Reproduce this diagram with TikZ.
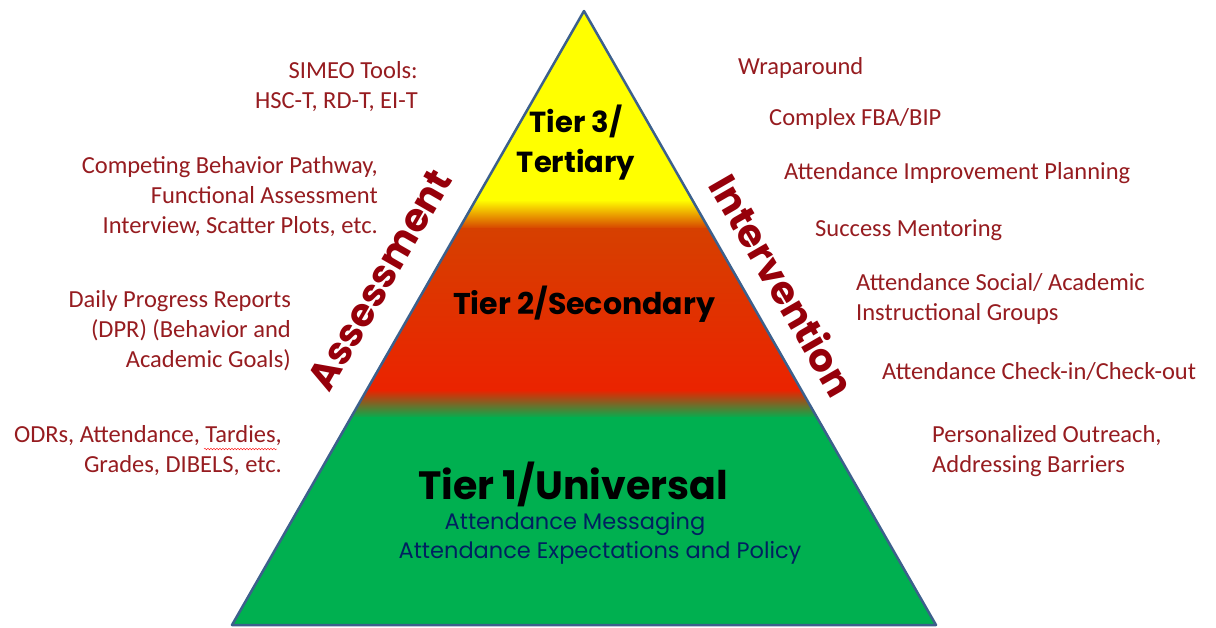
\documentclass[tikz,border=0pt]{standalone}
\usepackage{fontspec}
\setmainfont{Carlito}
\newfontfamily\gothic{Poppins}
\usepackage{tikz}
\usetikzlibrary{positioning,decorations.pathmorphing}

\definecolor{labelred}{RGB}{150,28,32}
\definecolor{axisred}{RGB}{150,0,10}
\definecolor{tieryellow}{RGB}{255,255,0}
\definecolor{tierorange}{RGB}{214,64,0}
\definecolor{tierred}{RGB}{235,35,0}
\definecolor{tiergreen}{RGB}{0,176,80}
\definecolor{edgeblue}{RGB}{60,96,140}
\definecolor{msgblue}{RGB}{0,32,96}

\tikzset{
    sidelabel/.style={text=labelred, font=\fontsize{24.5}{30}\selectfont, inner sep=0pt},
    leftlabel/.style={sidelabel, anchor=east, align=right},
    rightlabel/.style={sidelabel, anchor=west, align=left},
    tierlabel/.style={font=\gothic\bfseries\fontsize{29}{40}\selectfont, align=center, inner sep=0pt},
    msglabel/.style={text=msgblue, font=\gothic\fontsize{22.5}{29}\selectfont, inner sep=0pt},
    axislabel/.style={text=axisred, font=\gothic\bfseries\fontsize{39}{40}\selectfont, inner sep=0pt},
}

\begin{document}
\begin{tikzpicture}[x=1pt, y=-1pt]
    \useasboundingbox (0,0) rectangle (1216,627);

    % pyramid corners
    \coordinate (apex) at (584,11);
    \coordinate (baseL) at (232,625);
    \coordinate (baseR) at (936,625);

    % colour bands
    \begin{scope}
        \clip (apex) -- (baseR) -- (baseL) -- cycle;
        \fill[tieryellow] (200,0) rectangle (1000,201);
        \shade[top color=tieryellow, bottom color=tierorange] (200,200) rectangle (1000,229);
        \shade[top color=tierorange, bottom color=tierred] (200,228) rectangle (1000,391);
        \shade[top color=tierred, bottom color=tiergreen] (200,390) rectangle (1000,418);
        \fill[tiergreen] (200,417) rectangle (1000,640);
    \end{scope}
    \draw[edgeblue, line width=2.5pt, line join=round] (apex) -- (baseR) -- (baseL) -- cycle;

    % tiers
    \node[tierlabel] (tier3) at (576,143) {Tier 3/\\Tertiary};
    \node[tierlabel, font=\gothic\bfseries\fontsize{30}{40}\selectfont] (tier2) at (584,304) {Tier 2/Secondary};
    \node[tierlabel, font=\gothic\bfseries\fontsize{39.5}{40}\selectfont] (tier1) at (573,484) {Tier 1/Universal};
    \node[msglabel] (msg1) at (575,524) {Attendance Messaging};
    \node[msglabel] (msg2) at (600,553) {Attendance Expectations and Policy};

    % sides
    \node[axislabel, rotate=60] (assess) at (380,280) {Assessment};
    \node[axislabel, rotate=-60] (interv) at (783,285) {Intervention};

    % assessment tools
    \node[leftlabel] (simeo) at (418,87) {SIMEO Tools:\\HSC-T, RD-T, EI-T};
    \node[leftlabel] (pathway) at (378,197) {Competing Behavior Pathway,\\Functional Assessment\\Interview, Scatter Plots, etc.};
    \node[leftlabel] (dpr) at (291,331) {Daily Progress Reports\\(DPR) (Behavior and\\Academic Goals)};
    \node[leftlabel] (odr) at (282,451) {ODRs, Attendance, Tardies,\\Grades, DIBELS, etc.};
    \draw[red, decorate, decoration={snake, amplitude=0.8pt, segment length=3pt}] (204,449) -- (277,449);

    % interventions
    \foreach \name/\x/\y/\txt in {wrap/738/68/{Wraparound},
                                  complex/769/119/{Complex FBA/BIP},
                                  planning/784/173/{Attendance Improvement Planning},
                                  mentor/815/230/{Success Mentoring},
                                  groups/856/299/{Attendance Social/ Academic\\Instructional Groups},
                                  checkin/882/372/{Attendance Check-in/Check-out},
                                  outreach/932/451/{Personalized Outreach,\\Addressing Barriers}} {
        \node[rightlabel] (\name) at (\x,\y) {\txt};
    }
\end{tikzpicture}
\end{document}
